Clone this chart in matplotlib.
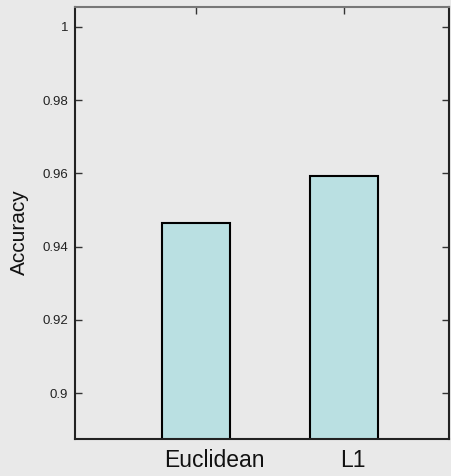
import matplotlib
matplotlib.use("Agg")
import matplotlib.pyplot as plt

categories = ["Euclidean", "L1"]
accuracy = [0.9465, 0.9593]
yticks = [0.9, 0.92, 0.94, 0.96, 0.98, 1.0]
yticklabels = ["0.9", "0.92", "0.94", "0.96", "0.98", "1"]

plt.rcParams['font.family'] = ['Liberation Sans', 'DejaVu Sans']

bg = "#e9e9e9"
fig = plt.figure(figsize=(4.52, 4.76), dpi=100, facecolor=bg)
ax = fig.add_axes([0.1666, 0.0784, 0.9927 - 0.1666, 0.9853 - 0.0784])
ax.set_facecolor(bg)

x = [1, 2]
ax.bar(x, accuracy, width=0.46, color="#bae0e2", edgecolor="black", linewidth=1.5, bottom=0, zorder=2)
ax.set_xlim(0.183, 2.711)
ax.set_ylim(0.8876, 1.0054)
ax.set_xticks(x)
ax.set_xticklabels([""] * len(categories))
# category labels, slightly right of the tick as in the reference
for xi, cat, dx in zip(x, categories, [12.96, 6.3]):
    ax.annotate(cat, xy=(xi, 0), xycoords=('data', 'axes fraction'),
                xytext=(dx, -20.2), textcoords='offset points',
                ha='center', va='baseline', fontsize=16.5, color="#111111",
                annotation_clip=False)
ax.set_yticks(yticks)
ax.set_yticklabels(yticklabels, fontsize=9.5, color="#222222")
ax.tick_params(axis='both', direction='in', length=5, width=1, color="#333333",
               top=True, right=True)
ax.tick_params(axis='y', pad=5)
fig.text(19.5 / 452, 1 - 232.5 / 476, "Accuracy", rotation=90, ha='center', va='center',
         fontsize=15, color="#111111")
for side in ['left', 'bottom', 'right']:
    ax.spines[side].set_linewidth(1.5)
    ax.spines[side].set_color("#222222")
ax.spines['top'].set_linewidth(1.5)
ax.spines['top'].set_color("#777777")

fig.savefig("out.png", dpi=100, facecolor=bg)
